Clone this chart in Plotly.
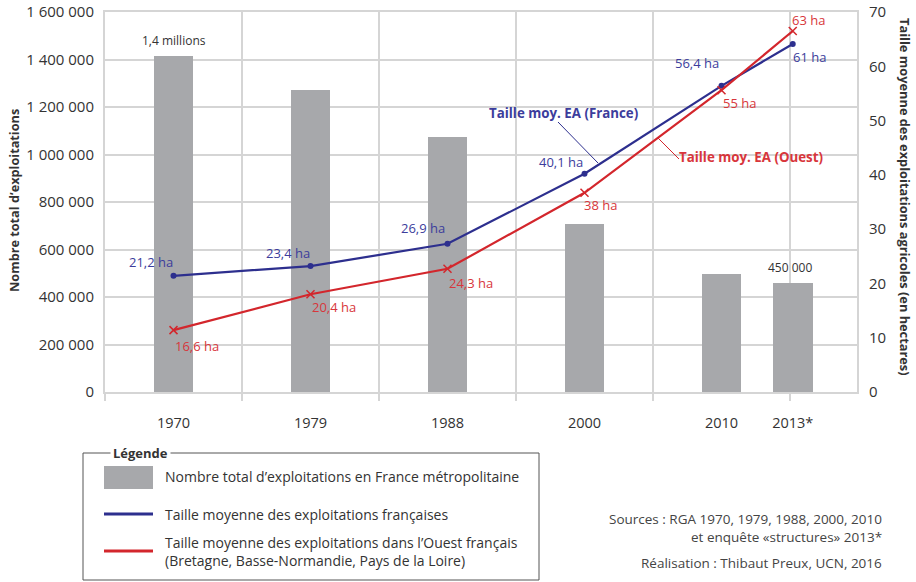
import plotly.graph_objects as go

# ---------------- data ----------------
years = ["1970", "1979", "1988", "2000", "2010", "2013*"]
x_slots = [0, 1, 2, 3, 4, 4.52]          # horizontal slot of each survey year
exploitations = [1416000, 1272000, 1075000, 706000, 497000, 458000]
taille_france = [21.4, 23.2, 27.3, 40.2, 56.4, 64.1]
taille_ouest = [11.4, 18.0, 22.7, 36.7, 55.6, 66.5]
labels_france = ["21,2 ha", "23,4 ha", "26,9 ha", "40,1 ha", "56,4 ha", "61 ha"]
labels_ouest = ["16,6 ha", "20,4 ha", "24,3 ha", "38 ha", "55 ha", "63 ha"]
bar_label_idx = [0, 5]
bar_label_text = ["1,4 millions", "450 000"]
left_tick_vals = [0, 200000, 400000, 600000, 800000, 1000000, 1200000, 1400000, 1600000]
left_tick_text = ["0", "200 000", "400 000", "600 000", "800 000", "1 000 000",
                  "1 200 000", "1 400 000", "1 600 000"]
right_tick_vals = [0, 10, 20, 30, 40, 50, 60, 70]

# ---------------- style ----------------
FONT = "Open Sans"
GRID = "#d5d5d5"
BAR = "#a7a8ab"
BLUE = "#2d2f8e"
BLUE_T = "#3c3d9c"
RED = "#d3262c"
RED_T = "#d8363b"
TXT = "#333333"

L, R, T, B = 105, 59, 12, 190
W, H = 916, 582
PW, PH = W - L - R, H - T - B


def PX(x):
    return (x - L) / PW


def PY(y):
    return (H - B - y) / PH


# label offsets in pixels (dx right, dy up)
off_france = [(-23, 14), (-23, 13), (-25, 16), (-24, 12), (-25, 23), (17, -13)]
off_ouest = [(23, -16), (23, -13), (23, -14), (16, -12), (18, -13), (16, 11)]

fig = go.Figure()
fig.add_trace(go.Bar(x=x_slots, y=exploitations, width=0.29, xaxis="x", yaxis="y",
                     marker=dict(color=BAR, line=dict(width=0)),
                     showlegend=False, hoverinfo="skip"))
# invisible carrier for the category-label axis
fig.add_trace(go.Scatter(x=x_slots, y=exploitations, xaxis="x2", yaxis="y", mode="markers",
                         marker=dict(opacity=0, size=1), showlegend=False, hoverinfo="skip"))
fig.add_trace(go.Scatter(x=x_slots, y=taille_france, xaxis="x", yaxis="y2",
                         mode="lines+markers",
                         line=dict(color=BLUE, width=2.2),
                         marker=dict(color=BLUE, size=6, symbol="circle"),
                         showlegend=False))
fig.add_trace(go.Scatter(x=x_slots, y=taille_ouest, xaxis="x", yaxis="y2",
                         mode="lines+markers",
                         line=dict(color=RED, width=2.2),
                         marker=dict(color=RED, size=8, symbol="x-thin",
                                     line=dict(color=RED, width=1.5)),
                         showlegend=False))

ann = []
for i, t in zip(bar_label_idx, bar_label_text):
    ann.append(dict(x=x_slots[i], y=exploitations[i], xref="x", yref="y", text=t,
                    showarrow=False, yanchor="bottom", yshift=5, xshift=-3 if i == 5 else 0,
                    font=dict(family=FONT, size=12, color=TXT)))
for i, t in enumerate(labels_france):
    ann.append(dict(x=x_slots[i], y=taille_france[i], xref="x", yref="y2", text=t,
                    showarrow=False, xanchor="center", yanchor="middle",
                    xshift=off_france[i][0], yshift=off_france[i][1],
                    font=dict(family=FONT, size=13, color=BLUE_T)))
for i, t in enumerate(labels_ouest):
    ann.append(dict(x=x_slots[i], y=taille_ouest[i], xref="x", yref="y2", text=t,
                    showarrow=False, xanchor="center", yanchor="middle",
                    xshift=off_ouest[i][0], yshift=off_ouest[i][1],
                    font=dict(family=FONT, size=13, color=RED_T)))


def txt(x, y, text, size, color=TXT, xanchor="center", angle=0, **kw):
    ann.append(dict(x=PX(x), y=PY(y), xref="paper", yref="paper", showarrow=False,
                    xanchor=xanchor, yanchor="middle", text=text, textangle=angle,
                    align="left", font=dict(family=FONT, size=size, color=color), **kw))


# callouts
txt(563, 113, "<b>Taille moy. EA (France)</b>", 13.3, BLUE_T)
txt(677, 157, "<b>Taille moy. EA (Ouest)</b>", 13.3, RED_T, xanchor="left")

# axis titles
txt(14, 201, "<b>Nombre total d’exploitations</b>", 12.7, angle=-90)
txt(905, 197, "<b>Taille moyenne des exploitations agricoles (en hectares)</b>", 12.8, angle=90)

# legend
txt(110, 453, "<b>Légende</b>", 13, xanchor="left", bgcolor="white", borderpad=2)
txt(163, 477, "Nombre total d’exploitations en France métropolitaine", 14, xanchor="left")
txt(163, 514, "Taille moyenne des exploitations françaises", 14, xanchor="left")
txt(163, 551, "Taille moyenne des exploitations dans l’Ouest français<br>"
              "(Bretagne, Basse-Normandie, Pays de la Loire)", 14, xanchor="left")

# sources
txt(884, 519, "Sources : RGA 1970, 1979, 1988, 2000, 2010", 13.5, "#444444", xanchor="right")
txt(884, 537, "et enquête «structures» 2013*", 13.5, "#444444", xanchor="right")
txt(884, 563, "Réalisation : Thibaut Preux, UCN, 2016", 13.5, "#444444", xanchor="right")

shapes = [
    dict(type="line", xref="paper", yref="paper", x0=PX(558), y0=PY(122), x1=PX(598), y1=PY(163),
         line=dict(color=BLUE, width=1)),
    dict(type="line", xref="paper", yref="paper", x0=PX(658), y0=PY(138), x1=PX(679), y1=PY(159),
         line=dict(color=RED, width=1)),
    dict(type="rect", xref="paper", yref="paper", x0=PX(83), y0=PY(453), x1=PX(539), y1=PY(580),
         line=dict(color="#555555", width=1), fillcolor="rgba(0,0,0,0)", layer="below"),
    dict(type="rect", xref="paper", yref="paper", x0=PX(104), y0=PY(466), x1=PX(153), y1=PY(489),
         line=dict(width=0), fillcolor=BAR),
    dict(type="line", xref="paper", yref="paper", x0=PX(104), y0=PY(514), x1=PX(153), y1=PY(514),
         line=dict(color=BLUE, width=3)),
    dict(type="line", xref="paper", yref="paper", x0=PX(104), y0=PY(551), x1=PX(153), y1=PY(551),
         line=dict(color=RED, width=3)),
]

xr = [-0.5, -0.5 + PW / 137.0]
fig.update_layout(
    width=W, height=H, autosize=False,
    margin=dict(l=L, r=R, t=T, b=B, pad=0),
    paper_bgcolor="white", plot_bgcolor="white",
    font=dict(family=FONT, color=TXT),
    bargap=0,
    xaxis=dict(range=xr, tickvals=[-0.5, 0.5, 1.5, 2.5, 3.5, 4.5], showticklabels=False,
               showgrid=True, gridcolor=GRID, gridwidth=2, ticks="outside", ticklen=7,
               tickwidth=2, tickcolor=GRID, showline=True, linecolor=GRID, linewidth=2,
               mirror=True, zeroline=False, automargin=False),
    xaxis2=dict(range=xr, overlaying="x", anchor="y", side="bottom", tickvals=x_slots,
                ticktext=years, showgrid=False, showline=False, zeroline=False,
                ticks="outside", ticklen=18, tickcolor="rgba(0,0,0,0)", automargin=False,
                tickfont=dict(family=FONT, size=14.5, color=TXT)),
    yaxis=dict(range=[0, 1600000], tickvals=left_tick_vals, ticktext=left_tick_text,
               showgrid=True, gridcolor=GRID, gridwidth=2, showline=True, linecolor=GRID,
               linewidth=2, mirror=True, zeroline=False, ticks="outside", ticklen=6,
               tickcolor="rgba(0,0,0,0)", automargin=False,
               tickfont=dict(family=FONT, size=15, color=TXT)),
    yaxis2=dict(range=[0, 70], overlaying="y", side="right", anchor="x",
                tickvals=right_tick_vals, showgrid=False, showline=False, zeroline=False,
                ticks="outside", ticklen=8, tickcolor="rgba(0,0,0,0)", automargin=False,
                tickfont=dict(family=FONT, size=15, color=TXT)),
    annotations=ann, shapes=shapes,
)

fig.write_html("out.html", config={"displayModeBar": False},
               post_script="document.body.style.margin='0';")
